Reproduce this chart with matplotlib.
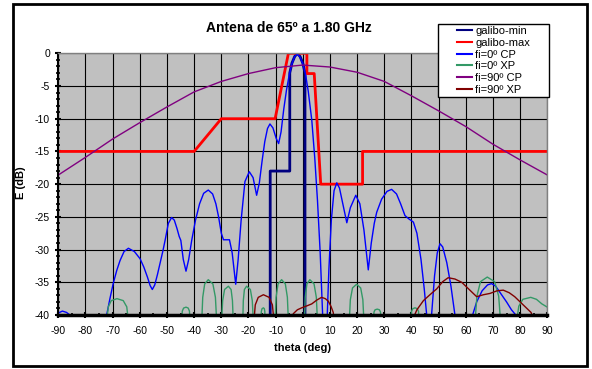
import numpy as np
import matplotlib
matplotlib.use("Agg")
import matplotlib.pyplot as plt
from matplotlib.patches import Rectangle
from matplotlib.ticker import MultipleLocator

plt.rcParams['font.family'] = ['Liberation Sans', 'DejaVu Sans']
plt.rcParams['axes.unicode_minus'] = False

nan = np.nan

# galibo-min (mascara minima)
gmin_x = [-12, -12, -4.8, -4.8, -4, -3, -2, -1, 0, 0.8, 0.8]
gmin_y = [-41, -18, -18, -3, -1.5, -0.5, 0, -0.5, -1.5, -3, -41]

# galibo-max (mascara maxima)
gmax_x = [-90, -40, -30, -10.2, -5.3, 1.5, 1.5, 4.2, 6.6, 22, 22, 90]
gmax_y = [-15, -15, -10, -10, 0, 0, -3.1, -3.1, -20, -20, -15, -15]

# fi=0 CP
cp0_x = [-90, -88.5, -87, -85.1, -84.5, -73, -72.2, -71, -69.8, -68.5, -67.3, -65.8, -64.2,
         -62, -59.9, -58.5, -57.2, -56.2, -55.4, -54.5, -53.5, -52.6, -51.5, -50.7, -49.5,
         -48.3, -47.3, -46.3, -45.5, -44.9, -44, -43, -42, -40.9, -39.5, -38, -36.5, -34.8,
         -33.2, -32, -31, -30, -29.2, -27, -26, -24.7, -23.8, -22.7, -21.3, -19.7, -18.3,
         -17, -16, -15, -14, -13, -12.1, -11, -9.8, -8.9, -8, -7, -6, -5, -4, -3, -2, -1,
         0, 1, 2, 3.3, 4.4, 5.4, 6.4, 7.3, 8, 9, 9.6, 10.5, 11.5, 12.5, 13.5, 15, 16.2,
         17.5, 19.5, 21, 22.5, 24.1, 25.2, 26.3, 27.2, 29, 31, 32.7, 34.5, 36, 37.6, 39,
         40.7, 42, 43.5, 44.7, 45.6, 46.3, 47.4, 48.5, 49.5, 50.5, 51.5, 53, 54.5, 56,
         56.6, 62, 62.5, 64, 66, 68, 69.5, 71, 73, 75, 76.8, 78.4, 79, 90]
cp0_y = [-39.7, -39.4, -39.6, -40.2, -44, -44, -40, -37.5, -35.2, -33.2, -31.7, -30.3, -29.8,
         -30.3, -31.4, -32.7, -34.2, -35.5, -36.1, -35.4, -33.8, -32.2, -30.2, -28.6, -26,
         -25.1, -25.5, -26.8, -28, -28.6, -31.5, -33.3, -31.5, -28.6, -25.5, -23, -21.4, -20.9,
         -21.5, -23, -25, -27.5, -28.5, -28.5, -30.5, -35.3, -31.5, -25.5, -19.6, -18.1, -19,
         -21.7, -19.8, -16.5, -13.5, -11.5, -10.8, -11.4, -13, -13.8, -12, -8.5, -5.6, -3.3,
         -1.6, -0.5, -0.1, -0.6, -1.6, -3.2, -5.8, -10.2, -16, -22.5, -30.5, -40, -46, -40,
         -33, -25.5, -21, -19.8, -20.6, -23.5, -25.9, -23.6, -21.7, -23, -27, -33.1, -29, -26,
         -24.3, -22.3, -21.1, -20.8, -21.5, -23, -24.8, -25.3, -25.8, -27.5, -31.5, -36, -40,
         -45, -40, -34, -30.5, -29.1, -29.6, -32, -35.5, -40, -45, -45, -40, -38, -36.3,
         -35.4, -35.2, -35.6, -36.8, -38, -39.2, -40, -45, -45]

# fi=0 XP (lobulos separados por nan)
xp0_x = [-72.2, -71.6, -70.5, -68.4, -66.1, -64.8, -64.2, nan,
         -44.6, -44.36, -43.88, -43.0, -42.18, -41.73, -41.5, nan,
         -37.2, -36.84, -36.12, -34.8, -33.1, -32.17, -31.7, nan,
         -29.9, -29.5, -28.8, -27.4, -26.4, -25.9, -25.6, nan,
         -22.1, -21.9, -21.5, -20.7, -19.3, -18.6, -18.2, nan,
         -15.4, -15.27, -15.0, -14.5, -14.17, -13.99, -13.9, nan,
         -10.2, -9.84, -9.12, -7.8, -6.43, -5.68, -5.3, nan,
         0.6, 0.9, 1.5, 2.6, 4.14, 4.98, 5.4, nan,
         17.1, 17.5, 18.3, 19.8, 21.3, 22.1, 22.5, nan,
         26.0, 26.2, 26.6, 27.4, 28.2, 28.6, 28.8, nan,
         39.8, 40.0, 40.5, 41.3, 42.1, 42.6, 42.8, nan,
         63.4, 64.1, 65.4, 67.9, 70.6, 72.1, 72.8, nan,
         78.7, 79.5, 81.0, 83.9, 86, 88, 90]
xp0_y = [-41, -38.75, -37.8, -37.5, -37.8, -38.75, -41, nan,
         -41, -39.4, -38.94, -38.8, -38.94, -39.4, -41, nan,
         -41, -37.3, -35.25, -34.6, -35.25, -37.3, -41, nan,
         -41, -37.8, -36.1, -35.6, -36.1, -37.8, -41, nan,
         -41, -37.8, -36.1, -35.6, -36.1, -37.8, -41, nan,
         -41, -39.45, -39.03, -38.9, -39.03, -39.45, -41, nan,
         -41, -37.3, -35.25, -34.6, -35.25, -37.3, -41, nan,
         -41, -37.3, -35.25, -34.6, -35.25, -37.3, -41, nan,
         -41, -37.65, -35.86, -35.3, -35.86, -37.65, -41, nan,
         -41, -39.55, -39.2, -39.1, -39.2, -39.55, -41, nan,
         -41, -39.45, -39.03, -38.9, -39.03, -39.45, -41, nan,
         -41, -37.1, -34.9, -34.2, -34.9, -37.1, -41, nan,
         -41, -38.65, -37.6, -37.3, -37.6, -38.3, -38.8]

# fi=90 CP
cp90_x = [-90, -80, -70, -60, -50, -40, -30, -20, -10, 0, 10, 20, 30, 40, 50, 60, 70, 80, 90]
cp90_y = [-18.6, -15.9, -13.1, -10.6, -8.2, -5.9, -4.3, -3.1, -2.2, -1.8, -2.1, -2.9, -4.3,
          -6.5, -8.8, -11.2, -13.9, -16.3, -18.6]

# fi=90 XP
xp90_x = [-18, -17.5, -16.4, -14.5, -12.4, -11.2, -10.6, nan,
          -4.7, -3.5, -2, -0.4, 1.5, 3.3, 5.2, 6.9, 8.3, 9.4, 10.4, 11.2, 11.6, nan,
          40.1, 42, 44.4, 46.8, 49.3, 51.5, 53.5, 56, 58.5, 61, 64, 66.5, 68.9, 71.5, 73.8,
          76, 78, 80, 82, 84, 85.5]
xp90_y = [-41, -38.45, -37.3, -36.9, -37.3, -38.45, -41, nan,
          -41, -39.8, -39.2, -38.9, -38.6, -38.3, -37.7, -37.3, -37.5, -37.9, -38.7, -39.6, -41, nan,
          -41, -39.2, -37.8, -36.9, -36.0, -34.9, -34.3, -34.5, -35.0, -36.0, -37.2, -36.9, -36.7,
          -36.3, -36.2, -36.6, -37.2, -38.0, -38.8, -39.6, -41]

fig = plt.figure(figsize=(5.92, 3.69), dpi=100)
ax = fig.add_axes([0.0985, 0.1463, 0.826, 0.7093])
ax.set_facecolor('#c0c0c0')

ax.plot(gmin_x, gmin_y, color='#000080', lw=2.0, label='galibo-min')
ax.plot(gmax_x, gmax_y, color='#ff0000', lw=2.0, label='galibo-max')
ax.plot(cp0_x, cp0_y, color='#0000ff', lw=1.0, label='fi=0º CP')
ax.plot(xp0_x, xp0_y, color='#339966', lw=1.0, label='fi=0º XP')
ax.plot(cp90_x, cp90_y, color='#800080', lw=1.0, label='fi=90º CP')
ax.plot(xp90_x, xp90_y, color='#800000', lw=1.0, label='fi=90º XP')

ax.set_xlim(-90, 90)
ax.set_ylim(-40, 0)
ax.xaxis.set_major_locator(MultipleLocator(10))
ax.xaxis.set_minor_locator(MultipleLocator(5))
ax.yaxis.set_major_locator(MultipleLocator(5))
ax.yaxis.set_minor_locator(MultipleLocator(1))
ax.grid(True, which='major', color='black', lw=0.8)
ax.set_axisbelow(True)
ax.tick_params(which='major', direction='inout', length=4, width=1.5, labelsize=7.5, pad=4)
ax.tick_params(which='minor', direction='inout', length=3, width=1.2)
ax.tick_params(axis='x', which='major', pad=6)

ax.spines['left'].set_linewidth(1.5)
ax.spines['bottom'].set_linewidth(2.5)
for s in ['top', 'right']:
    ax.spines[s].set_color('#808080')
    ax.spines[s].set_linewidth(1.0)

fig.text(0.488, 1 - 28 / 369, 'Antena de 65º a 1.80 GHz', ha='center', va='center',
         fontsize=10, fontweight='bold')
fig.text(303 / 592, 1 - 348 / 369, 'theta (deg)', ha='center', va='center',
         fontsize=8, fontweight='bold')
fig.text(21.5 / 592, 1 - 183 / 369, 'E (dB)', ha='center', va='center', rotation=90,
         fontsize=8, fontweight='bold')

# caja de la leyenda y marco exterior
fig.patches.append(Rectangle((438 / 592, 1 - 97 / 369), 111 / 592, 73 / 369,
                             transform=fig.transFigure, facecolor='white',
                             edgecolor='black', lw=1.0, zorder=2))
fig.patches.append(Rectangle((13 / 592, 1 - 366 / 369), 574 / 592, 362 / 369,
                             transform=fig.transFigure, fill=False,
                             edgecolor='black', lw=2.0, zorder=2))

leg = fig.legend(loc='center', bbox_to_anchor=(493.5 / 592, 1 - 60.5 / 369),
                 frameon=False, fontsize=8, handlelength=1.4, handletextpad=0.25,
                 labelspacing=0.15, borderpad=0)
for line in leg.get_lines():
    line.set_linewidth(1.5)

fig.savefig('out.png', dpi=100)
